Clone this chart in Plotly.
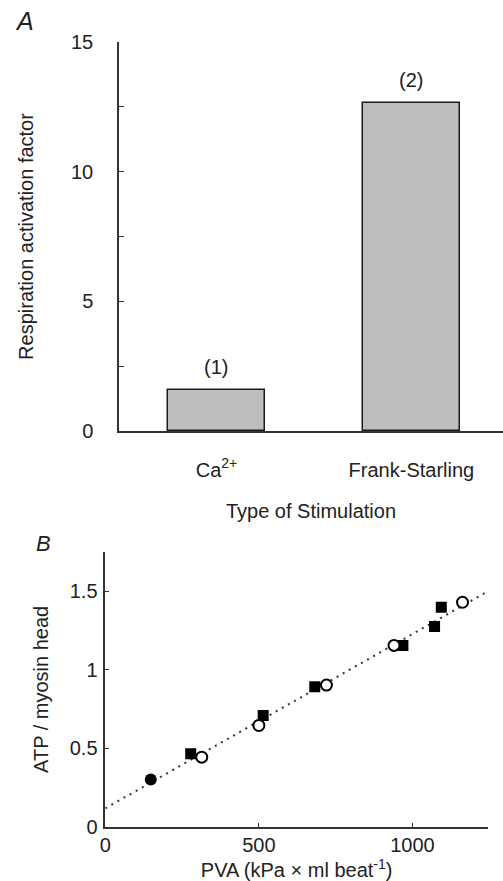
import plotly.graph_objects as go

# ---------------- Data ----------------
# Panel A
stim_categories = ["Ca<sup>2+</sup>", "Frank-Starling"]
activation_factor = [1.58, 12.66]
bar_labels = ["(1)", "(2)"]
a_major_dtick = 5
a_minor_dtick = 2.5

# Panel B
pva_filled_circle = [148]
atp_filled_circle = [0.30]
pva_filled_square = [278, 514, 682, 969, 1072, 1094]
atp_filled_square = [0.464, 0.708, 0.892, 1.155, 1.276, 1.398]
pva_open_circle = [314, 500, 720, 940, 1163]
atp_open_circle = [0.443, 0.645, 0.902, 1.155, 1.43]
fit_pva = [0, 1246]
fit_atp = [0.117, 1.50]
b_xticks = [0, 500, 1000]
b_yticks = [0, 0.5, 1, 1.5]
b_yticktext = ["0", "0.5", "1", "1.5"]

FONT = "Liberation Sans, Arial, Helvetica, sans-serif"
AX = "#333333"
TXT = "#222222"

W, H = 503, 881


def fx(px):
    return px / W


def fy(py):
    return 1 - py / H


fig = go.Figure()

fig.add_trace(go.Bar(
    x=stim_categories, y=activation_factor, width=0.5,
    marker=dict(color="#bebebe", line=dict(color="#1a1a1a", width=1.5)),
    xaxis="x", yaxis="y", showlegend=False, hoverinfo="x+y",
))

fig.add_trace(go.Scatter(
    x=fit_pva, y=fit_atp, mode="lines",
    line=dict(color="#333333", width=2, dash="2px,5px"),
    xaxis="x2", yaxis="y2", showlegend=False,
))
fig.add_trace(go.Scatter(
    x=pva_filled_circle, y=atp_filled_circle, mode="markers",
    marker=dict(symbol="circle", size=12, color="black"),
    xaxis="x2", yaxis="y2", showlegend=False,
))
fig.add_trace(go.Scatter(
    x=pva_filled_square, y=atp_filled_square, mode="markers",
    marker=dict(symbol="square", size=11, color="black"),
    xaxis="x2", yaxis="y2", showlegend=False,
))
fig.add_trace(go.Scatter(
    x=pva_open_circle, y=atp_open_circle, mode="markers",
    marker=dict(symbol="circle", size=11, color="white",
                line=dict(color="black", width=2)),
    xaxis="x2", yaxis="y2", showlegend=False,
))

annotations = []
for cat, val, lab in zip(stim_categories, activation_factor, bar_labels):
    annotations.append(dict(x=cat, y=val, xref="x", yref="y", text=lab,
                            showarrow=False, yanchor="bottom", yshift=10,
                            font=dict(family=FONT, size=20, color=TXT)))
annotations.append(dict(x=fx(24), y=fy(21), xref="paper", yref="paper",
                        text="<i>A</i>", showarrow=False,
                        xanchor="center", yanchor="middle",
                        font=dict(family=FONT, size=25, color=TXT)))
annotations.append(dict(x=fx(43), y=fy(543), xref="paper", yref="paper",
                        text="<i>B</i>", showarrow=False,
                        xanchor="center", yanchor="middle",
                        font=dict(family=FONT, size=22, color=TXT)))

tickfont = dict(family=FONT, size=20, color=TXT)
titlefont = dict(family=FONT, size=20, color=TXT)

fig.update_layout(
    width=W, height=H,
    margin=dict(l=0, r=0, t=0, b=0),
    paper_bgcolor="white", plot_bgcolor="white",
    showlegend=False,
    bargap=0,
    annotations=annotations,
    xaxis=dict(domain=[fx(119), 1.0], anchor="y", type="category",
               range=[-0.5, 1.47], showline=True, linecolor=AX, linewidth=1.5,
               ticks="", tickfont=tickfont, ticklabelstandoff=20,
               showgrid=False, zeroline=False, automargin=False,
               title=dict(text="Type of Stimulation", font=titlefont, standoff=24)),
    yaxis=dict(domain=[fy(431), fy(42)], anchor="x",
               range=[0, 15], tick0=0, dtick=a_major_dtick,
               ticks="inside", ticklen=5, tickwidth=1.2, tickcolor=AX,
               minor=dict(ticks="inside", dtick=a_minor_dtick, ticklen=5,
                          tickwidth=1.2, tickcolor=AX, showgrid=False),
               showline=True, linecolor=AX, linewidth=1.5,
               tickfont=tickfont, ticklabelstandoff=20,
               showgrid=False, zeroline=False, automargin=False,
               title=dict(text="Respiration activation factor", font=titlefont, standoff=32)),
    xaxis2=dict(domain=[fx(105.3), fx(488)], anchor="y2",
                range=[0, 1246], tickvals=b_xticks,
                ticks="inside", ticklen=4, tickwidth=1.2, tickcolor=AX,
                showline=True, linecolor=AX, linewidth=1.5,
                tickfont=tickfont, ticklabelstandoff=0,
                showgrid=False, zeroline=False, automargin=False,
                title=dict(text="PVA (kPa × ml beat<sup>-1</sup>)", font=titlefont, standoff=4)),
    yaxis2=dict(domain=[fy(826.7), fy(552)], anchor="x2",
                range=[0, 1.75], tickvals=b_yticks, ticktext=b_yticktext,
                ticks="inside", ticklen=4, tickwidth=1.2, tickcolor=AX,
                showline=True, linecolor=AX, linewidth=1.5,
                tickfont=tickfont, ticklabelstandoff=2,
                showgrid=False, zeroline=False, automargin=False,
                title=dict(text="ATP / myosin head", font=titlefont, standoff=16)),
)

fig.write_html(
    "out.html",
    config={"displayModeBar": False},
    post_script="document.body.style.margin='0px';document.body.style.overflow='hidden';",
)
